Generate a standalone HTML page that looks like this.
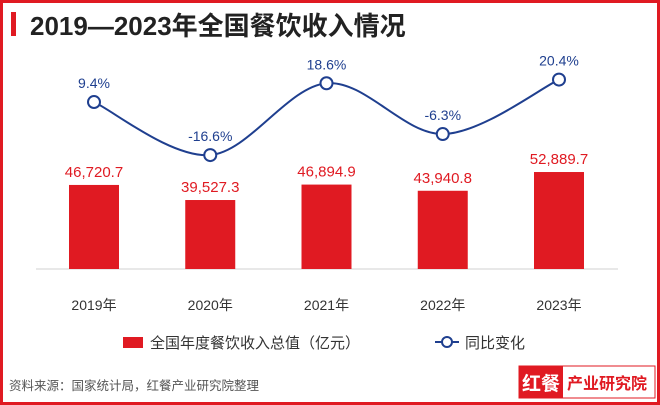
<!DOCTYPE html>
<html><head><meta charset="utf-8"><style>
body{margin:0;width:660px;height:405px;overflow:hidden;background:#fff;font-family:"Liberation Sans","Noto Sans CJK SC",sans-serif}
#frame{position:absolute;left:0;top:0;width:654px;height:399px;border:3px solid #e01a22}
</style></head><body>
<div id="frame"></div>
<svg width="660" height="405" style="position:absolute;left:0;top:0" id="chart">
<rect x="11" y="12" width="5" height="24" fill="#e01a22"/>
<text x="30" y="35" font-size="26" font-weight="bold" fill="#222">2019—2023年全国餐饮收入情况</text>
<line x1="36" y1="269" x2="618" y2="269" stroke="#d0d0d0"/>
<g id="bars"></g><g id="line"></g><g id="xl"></g>
<rect x="123" y="337" width="20" height="11" fill="#e01a22"/>
<text x="150" y="348" font-size="15" fill="#333">全国年度餐饮收入总值（亿元）</text>
<line x1="435" y1="342" x2="459" y2="342" stroke="#1f3f8f" stroke-width="2"/>
<circle cx="447" cy="342" r="5" fill="#fff" stroke="#1f3f8f" stroke-width="2"/>
<text x="465" y="348" font-size="15" fill="#333">同比变化</text>
<text x="9" y="390" font-size="12.5" fill="#555">资料来源：国家统计局，红餐产业研究院整理</text>
<rect x="519" y="366" width="136" height="32" fill="#fff" stroke="#e01a22"/>
<rect x="519" y="366" width="44" height="32" fill="#e01a22"/>
<text x="522" y="390" font-size="19" font-weight="bold" fill="#fff">红餐</text>
<text x="567" y="389" font-size="16" font-weight="bold" fill="#e01a22">产业研究院</text>
</svg>
<script>
const years=["2019年","2020年","2021年","2022年","2023年"];
const revenue=[46720.7,39527.3,46894.9,43940.8,52889.7];
const revenueLabels=["46,720.7","39,527.3","46,894.9","43,940.8","52,889.7"];
const growth=[9.4,-16.6,18.6,-6.3,20.4];
const growthLabels=["9.4%","-16.6%","18.6%","-6.3%","20.4%"];
const NS="http://www.w3.org/2000/svg";
const xs=i=>94+i*116.25;
const yb=v=>269-(v-6600)*0.002095;
const yl=v=>121.2-2.04*v;
function mk(t,a,p,txt){const e=document.createElementNS(NS,t);for(const k in a)e.setAttribute(k,a[k]);if(txt!=null)e.textContent=txt;p.appendChild(e);return e;}
const B=document.getElementById('bars'),L=document.getElementById('line'),X=document.getElementById('xl');
revenue.forEach((v,i)=>{
 const r=mk('rect',{x:xs(i)-25,y:yb(v),width:50,height:269-yb(v),fill:'#e01a22'},B);
 
 
 const t=mk('text',{x:xs(i),y:yb(v)-8,'font-size':15,fill:'#e01a22','text-anchor':'middle'},B,revenueLabels[i]);
 
 
 const xt=mk('text',{x:xs(i),y:310,'font-size':14,fill:'#333','text-anchor':'middle'},X,years[i]);
 
 
});
const pts=growth.map((v,i)=>[xs(i),yl(v)]);
let d='M'+pts[0][0]+','+pts[0][1];
for(let i=0;i<pts.length-1;i++){
 const p0=pts[i-1]||pts[i],p1=pts[i],p2=pts[i+1],p3=pts[i+2]||p2;
 const c1=[p1[0]+(p2[0]-p0[0])/6,p1[1]+(p2[1]-p0[1])/6],c2=[p2[0]-(p3[0]-p1[0])/6,p2[1]-(p3[1]-p1[1])/6];
 d+=` C${c1[0]},${c1[1]} ${c2[0]},${c2[1]} ${p2[0]},${p2[1]}`;
}
const path=mk('path',{d:d,fill:'none',stroke:'#1f3f8f','stroke-width':2},L);


pts.forEach((p,i)=>{
 const c=mk('circle',{cx:p[0],cy:p[1],r:6,fill:'#fff',stroke:'#1f3f8f','stroke-width':2},L);
 
 
 const t=mk('text',{x:p[0],y:p[1]-14,'font-size':14,fill:'#1f3f8f','text-anchor':'middle'},L,growthLabels[i]);
 
 
});
</script>
</body></html>
